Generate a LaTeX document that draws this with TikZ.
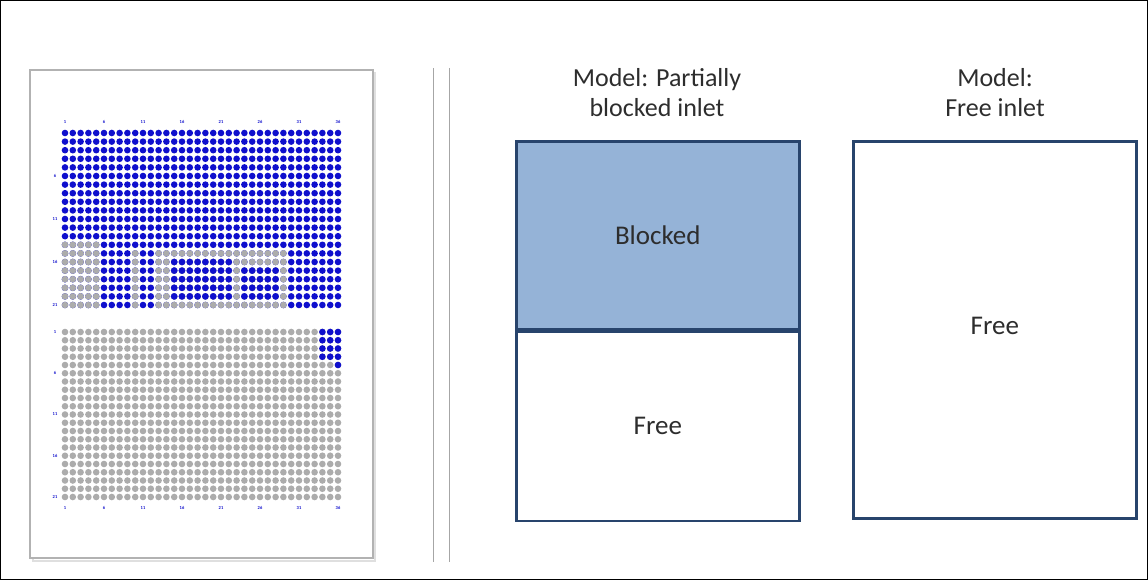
\documentclass[tikz,border=0pt]{standalone}
\usepackage{fontspec}
\setmainfont{Carlito}
\usepackage{xcolor}
\definecolor{dotblue}{RGB}{15,15,205}
\definecolor{dotgray}{RGB}{172,172,172}
\definecolor{blockfill}{RGB}{149,179,215}
\definecolor{boxline}{RGB}{40,68,108}
\definecolor{txt}{RGB}{45,45,45}

% 点阵: 样式, 列起, 列止, 行起, 行止, y0, dy
\newcommand{\dotrect}[7]{%
  \foreach \c in {#2,...,#3}
    \foreach \r in {#4,...,#5}
      \fill[#1] ({65+(\c-1)*7.8},{#6+(\r-1)*#7}) circle[radius=3.3pt];}

\begin{document}
\begin{tikzpicture}[x=1pt, y=-1pt,
    bdot/.style={dotblue},
    gdot/.style={dotgray},
    tick/.style={text=dotblue, font=\fontsize{4.5}{5}\selectfont\bfseries, inner sep=0pt},
    box/.style={draw=boxline, line width=2.6pt, anchor=north west, text=txt,
                font=\fontsize{27}{30}\selectfont},
    title/.style={align=center, text=txt, font=\fontsize{26}{30}\selectfont}]
    \useasboundingbox (0,0) rectangle (1148,580);
    \draw[black, line width=1.2pt] (0.6,0.6) rectangle (1147.4,579.4);

    % 左侧面板
    \draw[gray!25, line width=2pt] (33,73) rectangle (375,561);
    \draw[gray!60, line width=1.3pt, fill=white] (30,70) rectangle (373,558);

    % 上半部分点阵
    \dotrect{bdot}{1}{36}{1}{21}{133}{8.6}
    \dotrect{gdot}{1}{5}{14}{21}{133}{8.6}
    \dotrect{gdot}{10}{10}{15}{21}{133}{8.6}
    \dotrect{gdot}{13}{29}{15}{21}{133}{8.6}
    \dotrect{bdot}{15}{22}{16}{20}{133}{8.6}
    \dotrect{bdot}{24}{28}{17}{20}{133}{8.6}

    % 下半部分点阵
    \dotrect{gdot}{1}{36}{1}{21}{332}{8.25}
    \dotrect{bdot}{34}{36}{1}{4}{332}{8.25}
    \dotrect{bdot}{36}{36}{5}{5}{332}{8.25}

    % 坐标刻度
    \foreach \n in {1,6,...,36} {
        \node[tick] (tt\n) at ({65+(\n-1)*7.8},122) {\n};
        \node[tick] (tb\n) at ({65+(\n-1)*7.8},508) {\n};
    }
    \foreach \n in {6,11,16,21}
        \node[tick] (lt\n) at (55,{133+(\n-1)*8.6}) {\n};
    \foreach \n in {1,6,11,16,21}
        \node[tick] (lb\n) at (55,{332+(\n-1)*8.25}) {\n};

    % 分隔双线
    \draw[gray!70, line width=1pt] (433,68) -- (433,562);
    \draw[gray!70, line width=1pt] (449,68) -- (449,562);

    % 模型: 部分堵塞
    \node[title] (ttlpart) at (657,93) {Model: Partially\\blocked inlet};
    \node[box, fill=blockfill, minimum width=283pt, minimum height=188pt]
        (blocked) at (515,140) {Blocked};
    \node[box, minimum width=283pt, minimum height=189pt]
        (freelow) at (blocked.south west) {Free};

    % 模型: 自由入口
    \node[title] (ttlfree) at (995,93) {Model:\\Free inlet};
    \node[box, minimum width=283pt, minimum height=377pt]
        (freefull) at (852,140) {\raisebox{8pt}{Free}};
\end{tikzpicture}
\end{document}
